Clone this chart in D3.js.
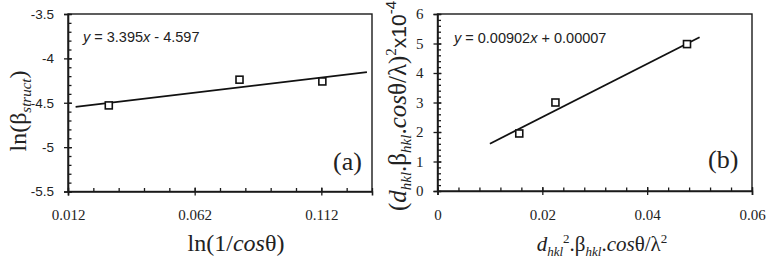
<!DOCTYPE html>
<html>
<head>
<meta charset="utf-8">
<script src="https://cdn.jsdelivr.net/npm/d3@7"></script>
<style>
  body { margin: 0; background: #fff; }
  svg { display: block; }
  .serif { font-family: "Liberation Serif", "DejaVu Serif", serif; }
  .sans { font-family: "Liberation Sans", Arial, sans-serif; }
</style>
</head>
<body>
<div id="chart"></div>
<script>
// panel (a): ln(beta_struct) vs ln(1/cos theta)
const aX = [0.0281, 0.0797, 0.1124];
const aY = [-4.53, -4.24, -4.26];
const aFit = { slope: 3.395, intercept: -4.597, from: 0.015, to: 0.13 };
const aXTicks = [0.012, 0.062, 0.112];
const aYTicks = [-3.5, -4, -4.5, -5, -5.5];

// panel (b): Williamson-Hall type plot, y in units of 1e-4
const bX = [0.0156, 0.0225, 0.0476];
const bY = [1.95, 3.0, 4.98];
const bFit = { slope: 90.2, intercept: 0.7, from: 0.01, to: 0.05 };
const bXTicks = [0, 0.02, 0.04, 0.06];
const bYTicks = [0, 1, 2, 3, 4, 5, 6];

const SERIF = '"Liberation Serif", "DejaVu Serif", serif';
const SANS = '"Liberation Sans", Arial, sans-serif';

const W = 772, H = 259;
const svg = d3.select("#chart").append("svg")
    .attr("width", W)
    .attr("height", H);
svg.append("rect").attr("width", W).attr("height", H).attr("fill", "#fff");

function drawPanel(p) {
  const x = d3.scaleLinear().domain(p.xDomain).range([p.left, p.right]);
  const y = d3.scaleLinear().domain(p.yDomain).range([p.bottom, p.top]);
  const g = svg.append("g");

  // frame
  g.append("rect")
    .attr("x", p.left).attr("y", p.top)
    .attr("width", p.right - p.left).attr("height", p.bottom - p.top)
    .attr("fill", "none").attr("stroke", "#1a1a1a").attr("stroke-width", 1.4);

  // minor ticks (inside)
  const xMinor = d3.range(p.xDomain[0], p.xDomain[1] + 1e-9, p.xMinor);
  const yMinor = d3.range(p.yDomain[0], p.yDomain[1] + 1e-9, p.yMinor);
  g.append("g")
    .attr("transform", `translate(0,${p.bottom})`)
    .call(d3.axisBottom(x).tickValues(xMinor).tickSize(-3.5).tickFormat(""))
    .call(a => a.select(".domain").remove());
  g.append("g")
    .attr("transform", `translate(${p.left},0)`)
    .call(d3.axisLeft(y).tickValues(yMinor).tickSize(-3.5).tickFormat(""))
    .call(a => a.select(".domain").remove());

  // major ticks crossing the axis + labels
  const xa = g.append("g")
    .attr("transform", `translate(0,${p.bottom})`)
    .call(d3.axisBottom(x).tickValues(p.xTicks).tickSize(4).tickPadding(14).tickFormat(p.xFmt));
  xa.selectAll(".tick line").attr("y1", -4);
  xa.selectAll(".tick text")
    .style("font-family", p.xFont).style("font-size", p.xFontSize + "px").attr("fill", "#222");
  const ya = g.append("g")
    .attr("transform", `translate(${p.left},0)`)
    .call(d3.axisLeft(y).tickValues(p.yTicks).tickSize(4).tickPadding(p.yPad).tickFormat(p.yFmt));
  ya.selectAll(".tick line").attr("x1", 4);
  ya.selectAll(".tick text")
    .style("font-family", p.yFont).style("font-size", p.yFontSize + "px").attr("fill", "#222");
  [xa, ya].forEach(a => {
    a.select(".domain").attr("stroke", "#1a1a1a").attr("stroke-width", 1.6);
  });
  g.selectAll(".tick line").attr("stroke", "#1a1a1a").attr("stroke-width", 1.3);

  // trend line
  const fitData = [p.fit.from, p.fit.to].map(v => [v, p.fit.slope * v + p.fit.intercept]);
  g.append("path")
    .datum(fitData)
    .attr("d", d3.line().x(d => x(d[0])).y(d => y(d[1])))
    .attr("fill", "none").attr("stroke", "#111").attr("stroke-width", 1.8);

  // markers
  const s = 7;
  g.selectAll(".pt")
    .data(p.xs.map((v, i) => [v, p.ys[i]]))
    .enter().append("rect")
    .attr("class", "pt")
    .attr("x", d => x(d[0]) - s / 2)
    .attr("y", d => y(d[1]) - s / 2)
    .attr("width", s).attr("height", s)
    .attr("fill", "#fff").attr("stroke", "#111").attr("stroke-width", 1.6);

  return g;
}

// ---- panel (a)
const ga = drawPanel({
  left: 68, right: 372, top: 14, bottom: 191.5,
  xDomain: [0.012, 0.132], yDomain: [-5.5, -3.5],
  xMinor: 0.01, yMinor: 0.1,
  xTicks: aXTicks, yTicks: aYTicks,
  xFmt: d3.format(".3f"), yFmt: d => String(d),
  xFont: SERIF, xFontSize: 15, yFont: SANS, yFontSize: 13.5, yPad: 10,
  xs: aX, ys: aY, fit: aFit
});

ga.append("text").attr("class", "sans").attr("x", 83).attr("y", 42)
  .attr("font-size", 14.5).attr("fill", "#222")
  .call(t => {
    t.append("tspan").attr("font-style", "italic").text("y");
    t.append("tspan").text(" = 3.395");
    t.append("tspan").attr("font-style", "italic").text("x");
    t.append("tspan").text(" - 4.597");
  });

ga.append("text").attr("class", "serif").attr("x", 333).attr("y", 170)
  .attr("font-size", 26).attr("fill", "#222").text("(a)");

ga.append("text").attr("class", "serif")
  .attr("x", 236).attr("y", 251).attr("text-anchor", "middle")
  .attr("font-size", 24).attr("fill", "#222")
  .call(t => {
    t.append("tspan").text("ln(1/");
    t.append("tspan").attr("font-style", "italic").text("cos");
    t.append("tspan").text("θ)");
  });

ga.append("text").attr("class", "serif")
  .attr("transform", "translate(26,111) rotate(-90)")
  .attr("text-anchor", "middle")
  .attr("font-size", 24).attr("fill", "#222")
  .call(t => {
    t.append("tspan").text("ln(β");
    t.append("tspan").attr("font-style", "italic").attr("font-size", 15).attr("dy", 5).text("struct");
    t.append("tspan").attr("dy", -5).text(")");
  });

// ---- panel (b)
const gb = drawPanel({
  left: 437.5, right: 752, top: 14, bottom: 191,
  xDomain: [0, 0.06], yDomain: [0, 6],
  xMinor: 0.004, yMinor: 0.2,
  xTicks: bXTicks, yTicks: bYTicks,
  xFmt: d => String(d), yFmt: d => String(d),
  xFont: SERIF, xFontSize: 15, yFont: SERIF, yFontSize: 15, yPad: 10,
  xs: bX, ys: bY, fit: bFit
});

gb.append("text").attr("class", "sans").attr("x", 454).attr("y", 43)
  .attr("font-size", 14.5).attr("fill", "#222")
  .call(t => {
    t.append("tspan").attr("font-style", "italic").text("y");
    t.append("tspan").text(" = 0.00902");
    t.append("tspan").attr("font-style", "italic").text("x");
    t.append("tspan").text(" + 0.00007");
  });

gb.append("text").attr("class", "serif").attr("x", 708).attr("y", 168)
  .attr("font-size", 26).attr("fill", "#222").text("(b)");

gb.append("text").attr("class", "serif")
  .attr("x", 602).attr("y", 251).attr("text-anchor", "middle")
  .attr("font-size", 21).attr("fill", "#222")
  .call(t => {
    t.append("tspan").attr("font-style", "italic").text("d");
    t.append("tspan").attr("font-style", "italic").attr("font-size", 13).attr("dy", 5).text("hkl");
    t.append("tspan").attr("font-size", 13).attr("dy", -13).text("2");
    t.append("tspan").attr("dy", 8).text(".β");
    t.append("tspan").attr("font-style", "italic").attr("font-size", 13).attr("dy", 5).text("hkl");
    t.append("tspan").attr("dy", -5).text(".");
    t.append("tspan").attr("font-style", "italic").text("cos");
    t.append("tspan").text("θ/λ");
    t.append("tspan").attr("font-size", 13).attr("dy", -8).text("2");
  });

gb.append("text").attr("class", "serif")
  .attr("transform", "translate(406,106) rotate(-90)")
  .attr("text-anchor", "middle")
  .attr("font-size", 25).attr("fill", "#222")
  .call(t => {
    t.append("tspan").text("(");
    t.append("tspan").attr("font-style", "italic").text("d");
    t.append("tspan").attr("font-style", "italic").attr("font-size", 15).attr("dy", 5).text("hkl");
    t.append("tspan").attr("dy", -5).text(".β");
    t.append("tspan").attr("font-style", "italic").attr("font-size", 15).attr("dy", 5).text("hkl");
    t.append("tspan").attr("dy", -5).text(".");
    t.append("tspan").attr("font-style", "italic").text("cos");
    t.append("tspan").text("θ/λ)");
    t.append("tspan").attr("font-size", 15).attr("dy", -10).text("2");
    t.append("tspan").attr("class", "sans").attr("font-size", 21).attr("dy", 10).text("x10");
    t.append("tspan").attr("class", "sans").attr("font-size", 15).attr("dy", -10).text("-4");
  });
</script>
</body>
</html>
